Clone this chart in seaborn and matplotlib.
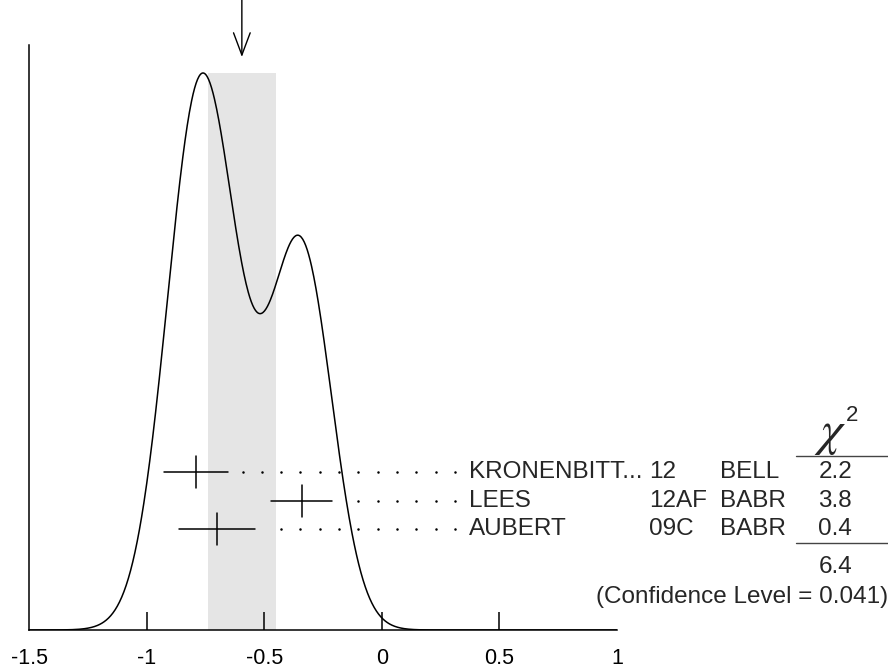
import numpy as np
import matplotlib
matplotlib.use("Agg")
import matplotlib.pyplot as plt
import seaborn as sns

# ---------------- data ----------------
names = ["KRONENBITT...", "LEES", "AUBERT"]
years = ["12", "12AF", "09C"]
experiments = ["BELL", "BABR", "BABR"]
values = [-0.79, -0.34, -0.70]
errors = [0.135, 0.13, 0.163]
chi2_values = ["2.2", "3.8", "0.4"]
chi2_total = "6.4"
confidence_level = "0.041"
average = -0.595
average_error = 0.145
tick_values = [-1.5, -1, -0.5, 0, 0.5, 1]
tick_labels = ["-1.5", "-1", "-0.5", "0", "0.5", "1"]

# ---------------- style ----------------
sns.set_theme(style="white")
plt.rcParams["font.family"] = ["Liberation Sans", "DejaVu Sans"]

W, H = 888, 668
fig = plt.figure(figsize=(W / 100, H / 100), dpi=100)
ax = fig.add_axes([29 / W, (H - 630) / H, (617 - 29) / W, (630 - 45) / H])
ax.set_facecolor("white")

# ideogram: sum of gaussians, each with area proportional to 1/sigma
xs = np.linspace(-1.5, 1.0, 800)
ys = np.zeros_like(xs)
for v, e in zip(values, errors):
    ys += (1.0 / e) * np.exp(-0.5 * ((xs - v) / e) ** 2) / e
ys /= ys.max()

ax.set_xlim(-1.5, 1.0)
ax.set_ylim(0, 585 / 557)

# shaded band for the average
ax.fill_between([average - average_error, average + average_error], 0, 1,
                color="#e5e5e5", lw=0, zorder=0)

sns.lineplot(x=xs, y=ys, color="black", lw=1.1, ax=ax, zorder=3)

# arrow at average
ax.annotate("", xy=(average, 1.0287), xytext=(average, 1.135),
            xycoords="data", textcoords="data", annotation_clip=False,
            arrowprops=dict(arrowstyle="->,head_length=0.8,head_width=0.3",
                            color="black", lw=1.0, mutation_scale=20,
                            shrinkA=0, shrinkB=0))

# measurements
row_y = [0.2837, 0.2316, 0.1813]
dot_last = 0.311
dot_step = 0.0821
dot_grid = dot_last - dot_step * np.arange(0, 30)
for v, e, y in zip(values, errors, row_y):
    ax.plot([v - e, v + e], [y, y], color="black", lw=1.1, zorder=4)
    ax.plot([v, v], [y - 0.028, y + 0.028], color="black", lw=1.1, zorder=4)
    dots = dot_grid[dot_grid > v + e + 0.045]
    ax.plot(dots, np.full_like(dots, y), ls="none", marker="o",
            ms=1.8, color="black", mew=0, zorder=4)

fs = 17.5
x_name, x_year, x_exp, x_chi = 0.370, 1.135, 1.438, 1.928
for n, yr, ex, c, y in zip(names, years, experiments, chi2_values, row_y):
    ax.text(x_name, y, n, fontsize=fs, ha="left", va="center", clip_on=False)
    ax.text(x_year, y, yr, fontsize=fs, ha="left", va="center", clip_on=False)
    ax.text(x_exp, y, ex, fontsize=fs, ha="left", va="center", clip_on=False)
    ax.text(x_chi, y, c, fontsize=fs, ha="center", va="center", clip_on=False)

# chi2 header
ax.text(x_chi - 0.02, 0.352, r"$\chi$", fontsize=36, math_fontfamily="stix",
        ha="center", va="center", clip_on=False)
ax.text(x_chi + 0.07, 0.385, "2", fontsize=16, ha="center", va="center", clip_on=False)
ax.plot([1.762, 2.16], [0.3124, 0.3124], color="#444444", lw=1.0, clip_on=False)
ax.plot([1.762, 2.16], [0.1562, 0.1562], color="#444444", lw=1.0, clip_on=False)
ax.text(x_chi, 0.1131, chi2_total, fontsize=fs, ha="center", va="center", clip_on=False)
ax.text(2.152, 0.0592, f"(Confidence Level = {confidence_level})", fontsize=fs,
        ha="right", va="center", clip_on=False)

# axes styling
for s in ["top", "right"]:
    ax.spines[s].set_visible(False)
for s in ["left", "bottom"]:
    ax.spines[s].set_visible(True)
    ax.spines[s].set_color("black")
    ax.spines[s].set_linewidth(1.1)
ax.set_yticks([])
ax.set_xticks(tick_values)
ax.set_xticklabels(tick_labels, fontsize=15.5)
ax.tick_params(axis="x", direction="in", length=13, width=1.1, pad=13,
               color="black", labelcolor="black", bottom=True)
ticks = ax.xaxis.get_major_ticks()
ticks[0].tick1line.set_visible(False)
ticks[-1].tick1line.set_visible(False)
ax.grid(False)

fig.savefig("out.png", dpi=100)
